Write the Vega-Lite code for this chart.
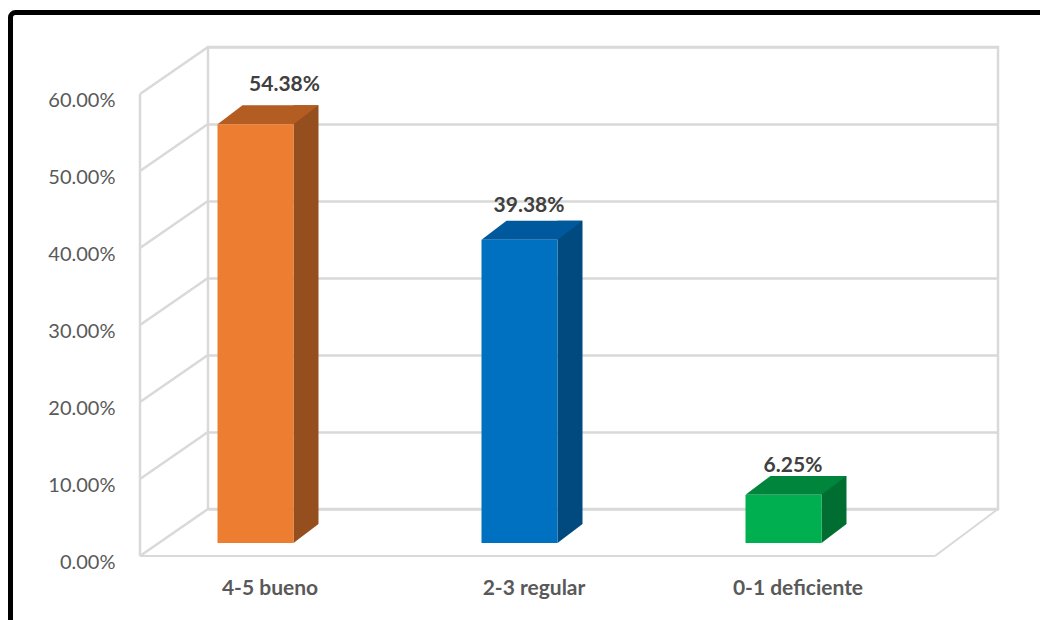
{
  "$schema": "https://vega.github.io/schema/vega-lite/v6.json",
  "width": 790,
  "height": 462,
  "autosize": {"type": "none"},
  "padding": {"left": 208, "top": 47, "right": 42, "bottom": 111},
  "background": "white",
  "config": {"view": {"stroke": "#D9D9D9", "strokeWidth": 2.5}, "font": "Lato"},
  "datasets": {
    "bars": [
      {"categoria": "4-5 bueno", "porcentaje": 0.5438},
      {"categoria": "2-3 regular", "porcentaje": 0.3938},
      {"categoria": "0-1 deficiente", "porcentaje": 0.0625}
    ],
    "ticks": [{"t": 0}, {"t": 0.1}, {"t": 0.2}, {"t": 0.3}, {"t": 0.4}, {"t": 0.5}, {"t": 0.6}],
    "one": [{}]
  },
  "layer": [
    {
      "data": {"name": "bars"},
      "mark": {"type": "bar", "yOffset": 34, "y2Offset": 34},
      "encoding": {
        "x": {"field": "categoria", "type": "nominal", "sort": null, "title": null,
          "scale": {"range": [0, 790], "paddingInner": 0.7121, "paddingOuter": 0.3523, "align": 0.0511},
          "axis": {"title": null, "labelAngle": 0, "labelOffset": 14.5, "labelPadding": 68, "ticks": false, "tickSize": 0, "domain": false, "grid": false,
            "labelFont": "Lato", "labelFontWeight": "bold", "labelFontSize": 21, "labelColor": "#595959"}},
        "y": {"field": "porcentaje", "type": "quantitative", "stack": null, "title": null,
          "scale": {"domain": [0, 0.6], "nice": false},
          "axis": {"title": null, "values": [0, 0.1, 0.2, 0.3, 0.4, 0.5, 0.6], "format": ".2%", "grid": true, "gridColor": "#D9D9D9", "gridWidth": 2.5,
            "domain": false, "ticks": false, "tickSize": 0, "labelPadding": 93, "labelOffset": 53, "labelFont": "Lato", "labelFontSize": 20,
            "labelColor": "#595959", "labelFlush": false, "labelBound": false, "labelOverlap": false}},
        "y2": {"datum": 0},
        "color": {"value": "transparent"}
      }
    },
    {
      "data": {"name": "one"},
      "mark": {"type": "rect", "filled": false, "stroke": "#000000", "strokeWidth": 5, "cornerRadius": 5},
      "encoding": {
        "x": {"value": -197.5},
        "x2": {"value": 900},
        "y": {"value": -34.5},
        "y2": {"value": 700}
      }
    },
    {
      "data": {"name": "ticks"},
      "mark": {"type": "rule", "color": "#D9D9D9", "strokeWidth": 2.5, "yOffset": 47, "y2Offset": 0},
      "encoding": {
        "y": {"field": "t", "type": "quantitative", "title": null},
        "y2": {"field": "t"},
        "x": {"value": -68},
        "x2": {"value": 0}
      }
    },
    {
      "data": {"name": "one"},
      "mark": {"type": "rule", "color": "#D9D9D9", "strokeWidth": 2.5, "yOffset": 47, "y2Offset": 47},
      "encoding": {
        "y": {"datum": 0.6, "type": "quantitative", "title": null},
        "y2": {"datum": 0},
        "x": {"value": -68}
      }
    },
    {
      "data": {"name": "one"},
      "mark": {"type": "rule", "color": "#D9D9D9", "strokeWidth": 2, "yOffset": 47},
      "encoding": {
        "y": {"datum": 0, "type": "quantitative", "title": null},
        "x": {"value": -68},
        "x2": {"value": 727}
      }
    },
    {
      "data": {"name": "one"},
      "mark": {"type": "rule", "color": "#D9D9D9", "strokeWidth": 2, "yOffset": 47, "y2Offset": 0},
      "encoding": {
        "y": {"datum": 0, "type": "quantitative", "title": null},
        "y2": {"datum": 0},
        "x": {"value": 727},
        "x2": {"value": 790}
      }
    },
    {
      "data": {"name": "bars"},
      "mark": {"type": "bar", "width": 25, "xOffset": 50.5, "yOffset": 15, "y2Offset": 15},
      "encoding": {
        "x": {"field": "categoria", "type": "nominal", "sort": null, "title": null},
        "y": {"field": "porcentaje", "type": "quantitative", "stack": null, "title": null},
        "y2": {"datum": 0},
        "color": {"field": "categoria", "type": "nominal", "legend": null,
          "scale": {"domain": ["4-5 bueno", "2-3 regular", "0-1 deficiente"], "range": ["#954F1E", "#004A80", "#006E31"]}}
      }
    },
    {
      "data": {"name": "bars"},
      "mark": {"type": "point", "shape": "M-1,-0.76L1,-0.76L-1,0.76Z", "size": 625, "filled": true, "opacity": 1, "strokeWidth": 0, "xOffset": 50.5, "yOffset": 24.5},
      "encoding": {
        "x": {"field": "categoria", "type": "nominal", "sort": null, "title": null},
        "y": {"datum": 0, "type": "quantitative", "title": null},
        "color": {"field": "categoria", "type": "nominal", "legend": null,
          "scale": {"domain": ["4-5 bueno", "2-3 regular", "0-1 deficiente"], "range": ["#954F1E", "#004A80", "#006E31"]}}
      }
    },
    {
      "data": {"name": "bars"},
      "mark": {"type": "point", "shape": "M-1,0.188L0.505,0.188L1,-0.188L-0.505,-0.188Z", "size": 10201, "filled": true, "opacity": 1, "strokeWidth": 0, "xOffset": 12.5, "yOffset": 24.5},
      "encoding": {
        "x": {"field": "categoria", "type": "nominal", "sort": null, "title": null},
        "y": {"field": "porcentaje", "type": "quantitative", "title": null},
        "color": {"field": "categoria", "type": "nominal", "legend": null,
          "scale": {"domain": ["4-5 bueno", "2-3 regular", "0-1 deficiente"], "range": ["#B35D22", "#00599C", "#00853D"]}}
      }
    },
    {
      "data": {"name": "bars"},
      "mark": {"type": "bar", "yOffset": 34, "y2Offset": 34},
      "encoding": {
        "x": {"field": "categoria", "type": "nominal", "sort": null, "title": null},
        "y": {"field": "porcentaje", "type": "quantitative", "stack": null, "title": null},
        "y2": {"datum": 0},
        "color": {"field": "categoria", "type": "nominal", "legend": null,
          "scale": {"domain": ["4-5 bueno", "2-3 regular", "0-1 deficiente"], "range": ["#ED7D31", "#0070C0", "#00B050"]}}
      }
    },
    {
      "data": {"name": "bars"},
      "mark": {"type": "text", "font": "Lato", "fontWeight": "bold", "fontSize": 21, "color": "#404040", "baseline": "middle", "align": "center",
        "dx": {"expr": "datum.categoria === '4-5 bueno' ? 29 : 9.5"},
        "dy": {"expr": "datum.categoria === '4-5 bueno' ? -5 : (datum.categoria === '0-1 deficiente' ? 5 : 0)"}},
      "encoding": {
        "x": {"field": "categoria", "type": "nominal", "sort": null, "title": null},
        "y": {"field": "porcentaje", "type": "quantitative", "title": null},
        "text": {"field": "porcentaje", "type": "quantitative", "format": ".2%"}
      }
    }
  ],
  "resolve": {"scale": {"color": "independent"}}
}
